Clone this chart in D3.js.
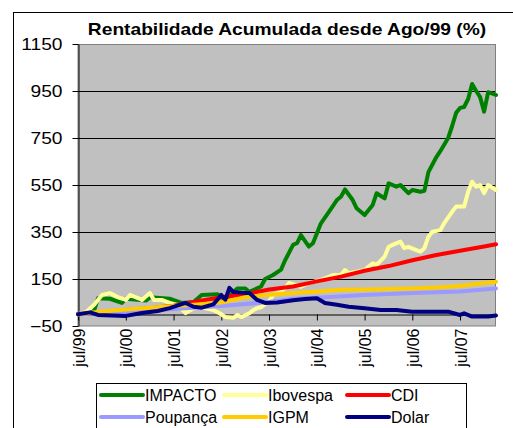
<!DOCTYPE html>
<html>
<head>
<meta charset="utf-8">
<script src="https://cdn.jsdelivr.net/npm/d3@7/dist/d3.min.js"></script>
<style>
  body { margin: 0; background: #fff; }
  svg { display: block; font-family: "Liberation Sans", Arial, sans-serif; }
</style>
</head>
<body>
<div id="chart"></div>
<script>
// Rentabilidade acumulada (%) - [month, value]
const impacto = [
  ['1999-07', 0], ['1999-11', 15], ['1999-12', 68], ['2000-03', 66], ['2000-06', 48], ['2000-07', 66],
  ['2000-12', 58], ['2001-01', 72], ['2001-06', 66], ['2001-09', 48], ['2001-12', 52], ['2002-02', 82],
  ['2002-06', 85], ['2002-08', 62], ['2002-11', 110], ['2003-01', 110], ['2003-02', 95], ['2003-05', 118],
  ['2003-06', 150], ['2003-08', 167], ['2003-10', 190], ['2003-11', 230], ['2004-01', 295], ['2004-02', 303],
  ['2004-03', 337], ['2004-05', 288], ['2004-06', 302], ['2004-08', 387], ['2004-10', 436], ['2004-12', 486],
  ['2005-01', 500], ['2005-02', 531], ['2005-04', 486], ['2005-05', 451], ['2005-07', 422], ['2005-09', 465],
  ['2005-10', 515], ['2005-12', 493], ['2006-01', 557], ['2006-03', 543], ['2006-04', 550], ['2006-06', 515],
  ['2006-07', 529], ['2006-09', 521], ['2006-10', 525], ['2006-11', 605], ['2007-01', 669], ['2007-02', 695],
  ['2007-04', 750], ['2007-05', 800], ['2007-06', 857], ['2007-07', 878], ['2007-08', 882], ['2007-09', 916],
  ['2007-10', 980], ['2007-11', 950], ['2007-12', 925], ['2008-01', 862], ['2008-02', 945], ['2008-03', 940],
  ['2008-04', 933]
]
const ibovespa = [
  ['1999-07', 0], ['1999-09', 10], ['1999-11', 40], ['2000-01', 82], ['2000-03', 90], ['2000-05', 73],
  ['2000-07', 61], ['2000-08', 82], ['2000-10', 69], ['2000-11', 61], ['2001-01', 90], ['2001-02', 61],
  ['2001-04', 61], ['2001-06', 48], ['2001-08', 40], ['2001-10', 5], ['2001-12', 25], ['2002-02', 30],
  ['2002-05', 18], ['2002-07', 0], ['2002-08', -12], ['2002-10', -15], ['2002-11', -3], ['2002-12', -12],
  ['2003-02', 4], ['2003-03', 17], ['2003-04', 26], ['2003-05', 30], ['2003-07', 55], ['2003-08', 82],
  ['2003-10', 95], ['2003-11', 112], ['2003-12', 133], ['2004-03', 117], ['2004-05', 133], ['2004-08', 146],
  ['2004-09', 153], ['2004-11', 167], ['2005-01', 167], ['2005-02', 188], ['2005-03', 175], ['2005-05', 181],
  ['2005-07', 188], ['2005-09', 217], ['2005-10', 210], ['2005-12', 245], ['2006-01', 287], ['2006-02', 295],
  ['2006-04', 309], ['2006-05', 281], ['2006-06', 287], ['2006-08', 273], ['2006-09', 266], ['2006-10', 281],
  ['2006-11', 330], ['2006-12', 351], ['2007-02', 358], ['2007-03', 387], ['2007-05', 436], ['2007-06', 458],
  ['2007-08', 458], ['2007-09', 521], ['2007-10', 564], ['2007-11', 543], ['2007-12', 550], ['2008-01', 515],
  ['2008-02', 550], ['2008-04', 529]
]
const cdi = [
  ['1999-07', 0], ['2000-01', 8], ['2000-07', 18], ['2001-01', 26], ['2001-07', 36], ['2002-01', 55],
  ['2002-07', 72], ['2003-01', 85], ['2003-07', 105], ['2004-01', 118], ['2004-07', 140], ['2005-01', 160],
  ['2005-07', 185], ['2006-01', 205], ['2006-07', 230], ['2007-01', 252], ['2007-07', 270], ['2008-01', 288],
  ['2008-04', 298]
]
const poupanca = [
  ['1999-07', 0], ['2000-07', 10], ['2001-07', 22], ['2002-07', 35], ['2003-07', 52], ['2004-01', 66],
  ['2004-07', 70], ['2005-07', 82], ['2006-07', 90], ['2007-07', 97], ['2008-04', 110]
]
const igpm = [
  ['1999-07', 0], ['2000-01', 12], ['2000-07', 20], ['2001-01', 28], ['2001-07', 35], ['2002-01', 42],
  ['2002-07', 50], ['2002-11', 65], ['2003-01', 72], ['2003-05', 80], ['2003-11', 88], ['2004-07', 97],
  ['2005-01', 104], ['2005-07', 105], ['2006-01', 107], ['2006-07', 110], ['2007-01', 114], ['2007-07', 120],
  ['2008-01', 133], ['2008-04', 138]
]
const dolar = [
  ['1999-07', 0], ['1999-10', 8], ['1999-12', -3], ['2000-07', -7], ['2000-11', 5], ['2001-03', 14],
  ['2001-06', 26], ['2001-10', 48], ['2001-12', 32], ['2002-02', 28], ['2002-05', 42], ['2002-07', 82],
  ['2002-08', 62], ['2002-09', 112], ['2002-10', 95], ['2002-12', 92], ['2003-02', 90], ['2003-04', 61],
  ['2003-06', 48], ['2003-09', 50], ['2004-01', 60], ['2004-04', 65], ['2004-07', 68], ['2004-09', 48],
  ['2004-12', 40], ['2005-03', 32], ['2005-07', 26], ['2005-11', 18], ['2006-03', 18], ['2006-07', 11],
  ['2007-04', 11], ['2007-07', -3], ['2007-08', 4], ['2007-10', -10], ['2008-02', -10], ['2008-04', -5]
]

const seriesNames = ['IMPACTO', 'Ibovespa', 'CDI', 'Poupança', 'IGPM', 'Dolar']
const seriesData = [impacto, ibovespa, cdi, poupanca, igpm, dolar]
const seriesColors = ['#008000', '#FFFF99', '#FF0000', '#9999FF', '#FFCC00', '#000080']

const yTicks = [-50, 150, 350, 550, 750, 950, 1150]
const xTickMonths = ['1999-07', '2000-07', '2001-07', '2002-07', '2003-07', '2004-07', '2005-07', '2006-07', '2007-07']
const xTickLabels = ['jul/99', 'jul/00', 'jul/01', 'jul/02', 'jul/03', 'jul/04', 'jul/05', 'jul/06', 'jul/07']
const title = 'Rentabilidade Acumulada desde Ago/99 (%)'

const width = 513
const height = 428
const plot = { left: 78, top: 44, right: 496, bottom: 326 }
const parse = d3.timeParse('%Y-%m')
const stretch = 1.2 // title and value labels are drawn wider

const svg = d3.select('#chart').append('svg')
  .attr('width', width)
  .attr('height', height)

// chart frame
svg.append('rect')
  .attr('x', 13.5).attr('y', 12.5)
  .attr('width', 540).attr('height', 440)
  .attr('fill', '#fff').attr('stroke', '#000')

const x = d3.scaleTime()
  .domain([parse('1999-07'), parse('2008-04')])
  .range([plot.left, plot.right])
const y = d3.scaleLinear()
  .domain([-50, 1150])
  .range([plot.bottom, plot.top])

// plot area
svg.append('rect')
  .attr('x', plot.left).attr('y', plot.top + 0.5)
  .attr('width', plot.right - plot.left - 0.5)
  .attr('height', plot.bottom - plot.top - 0.5)
  .attr('fill', '#C0C0C0').attr('stroke', '#808080')

svg.append('g')
  .selectAll('line')
  .data(yTicks.filter(d => d > -50 && d < 1150))
  .enter().append('line')
  .attr('x1', plot.left).attr('x2', plot.right - 1)
  .attr('y1', d => Math.round(y(d)) + 0.5)
  .attr('y2', d => Math.round(y(d)) + 0.5)
  .attr('stroke', '#000')

// y axis
const yAxis = svg.append('g')
  .attr('transform', `translate(${plot.left + 0.5},0)`)
  .call(d3.axisLeft(y).tickValues(yTicks).tickSizeInner(6).tickSizeOuter(0).tickFormat(d3.format('d')))
yAxis.select('.domain').attr('stroke', '#000')
yAxis.selectAll('.tick line').attr('stroke', '#000')
yAxis.selectAll('.tick text')
  .attr('x', -16 / stretch)
  .attr('dy', '0.36em')
  .attr('transform', `scale(${stretch},1)`)
  .attr('fill', '#000')
  .style('font-size', '16px')
  .style('font-family', '"Liberation Sans", Arial, sans-serif')

// x axis crossing at 0
const y0 = y(0)
const xAxis = svg.append('g')
  .attr('transform', `translate(0,${Math.round(y0) + 0.5})`)
  .call(d3.axisBottom(x)
    .tickValues(xTickMonths.map(parse))
    .tickSizeInner(6).tickSizeOuter(0)
    .tickFormat((d, i) => xTickLabels[i]))
xAxis.select('.domain').attr('stroke', '#000')
xAxis.selectAll('.tick line').attr('stroke', '#000')
xAxis.selectAll('.tick text')
  .attr('transform', 'rotate(-90)')
  .attr('x', -(328 - Math.round(y0)))
  .attr('y', 6)
  .attr('dy', 0)
  .attr('text-anchor', 'end')
  .attr('fill', '#000')
  .style('font-size', '16px')
  .style('font-family', '"Liberation Sans", Arial, sans-serif')

// series
const line = d3.line()
  .x(d => x(parse(d[0])))
  .y(d => y(d[1]))

svg.append('g')
  .selectAll('path')
  .data(seriesData)
  .enter().append('path')
  .attr('d', line)
  .attr('fill', 'none')
  .attr('stroke', (d, i) => seriesColors[i])
  .attr('stroke-width', 4)
  .attr('stroke-linejoin', 'round')
  .attr('stroke-linecap', 'round')

// title
svg.append('text')
  .attr('transform', `translate(287,35) scale(${stretch},1)`)
  .attr('text-anchor', 'middle')
  .style('font-size', '16px')
  .style('font-weight', 'bold')
  .text(title)

// legend
const legend = svg.append('g')
legend.append('rect')
  .attr('x', 96.5).attr('y', 383.5)
  .attr('width', 370).attr('height', 60)
  .attr('fill', '#fff').attr('stroke', '#000')

const colX = [101, 224, 347]
const rowY = [395, 417]
const item = legend.selectAll('.item')
  .data(seriesNames)
  .enter().append('g')
  .attr('class', 'item')
  .attr('transform', (d, i) => `translate(${colX[i % 3]},${rowY[Math.floor(i / 3)]})`)
item.append('line')
  .attr('x1', 0).attr('x2', 42)
  .attr('stroke', (d, i) => seriesColors[i])
  .attr('stroke-width', 4)
  .attr('stroke-linecap', 'round')
item.append('text')
  .attr('x', 44)
  .attr('y', 6)
  .style('font-size', '16px')
  .text(d => d)
</script>
</body>
</html>
